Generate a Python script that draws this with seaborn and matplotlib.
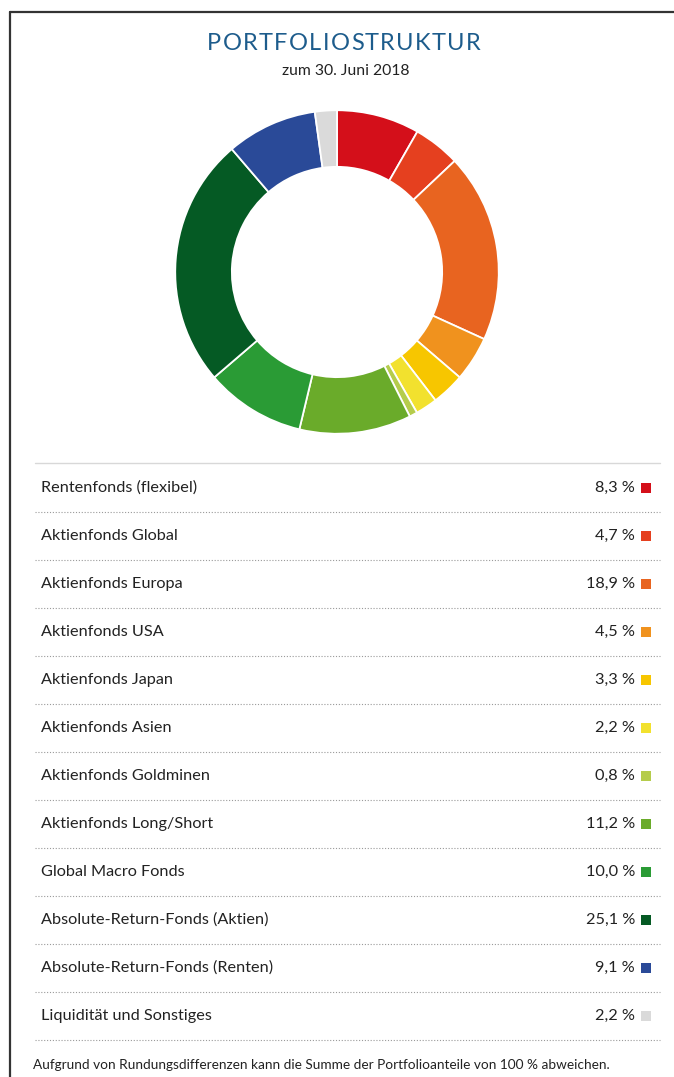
import matplotlib
matplotlib.use("Agg")
import matplotlib.pyplot as plt
import seaborn as sns

# data
labels = ["Rentenfonds (flexibel)", "Aktienfonds Global", "Aktienfonds Europa",
          "Aktienfonds USA", "Aktienfonds Japan", "Aktienfonds Asien",
          "Aktienfonds Goldminen", "Aktienfonds Long/Short", "Global Macro Fonds",
          "Absolute-Return-Fonds (Aktien)", "Absolute-Return-Fonds (Renten)",
          "Liquidität und Sonstiges"]
values = [8.3, 4.7, 18.9, 4.5, 3.3, 2.2, 0.8, 11.2, 10.0, 25.1, 9.1, 2.2]
colors = ["#D40F1A", "#E5401F", "#E86420", "#F0921E", "#F7C600", "#F2E12E",
          "#B5CC4C", "#6AAB2A", "#2A9B35", "#055A24", "#2A4A98", "#DADADA"]

title = "PORTFOLIOSTRUKTUR"
subtitle = "zum 30. Juni 2018"
footnote = "Aufgrund von Rundungsdifferenzen kann die Summe der Portfolioanteile von 100 % abweichen."

sns.set_theme(style="white")
plt.rcParams["font.family"] = ["Lato", "DejaVu Sans"]
palette = sns.color_palette(colors)

W, H = 674, 1077
fig = plt.figure(figsize=(W / 100, H / 100), dpi=100)
fig.patch.set_facecolor("white")

# full-page axes in pixel coordinates
page = fig.add_axes([0, 0, 1, 1])
page.set_xlim(0, W)
page.set_ylim(H, 0)
page.axis("off")

# frame
page.plot([10, W], [12, 12], color="#333333", lw=1.6)
page.plot([10, 10], [12, H], color="#333333", lw=1.6)

# title with letter spacing
renderer = fig.canvas.get_renderer()
tkw = dict(fontsize=17, color="#1D5C8C", va="center", ha="left")
widths = []
for ch in title:
    t = page.text(0, 0, ch, **tkw)
    widths.append(t.get_window_extent(renderer).width)
    t.remove()
spacing = 1.3
total = sum(widths) + spacing * (len(title) - 1)
x = 344 - total / 2
for ch, w in zip(title, widths):
    page.text(x, 44, ch, **tkw)
    x += w + spacing

page.text(346, 71, subtitle, fontsize=11.3, color="#222222", ha="center", va="center")

# donut
cx, cy, r = 337, 272, 165
pie_ax = fig.add_axes([(cx - r) / W, (H - cy - r) / H, 2 * r / W, 2 * r / H])
pie_ax.pie(values, colors=palette, startangle=90, counterclock=False,
           wedgeprops=dict(width=0.35, edgecolor="white", linewidth=1.3))
pie_ax.set_xlim(-1.02, 1.02)
pie_ax.set_ylim(-1.02, 1.02)
pie_ax.set_aspect("equal")
pie_ax.axis("off")

# table
page.plot([35, 660], [463, 463], color="#D8D8D8", lw=1.0)
y0, step = 488, 48
for i, (lab, val, col) in enumerate(zip(labels, values, palette)):
    y = y0 + i * step
    page.text(41, y, lab, fontsize=11.7, color="#222222", va="center", ha="left")
    pct = f"{val:.1f}".replace(".", ",") + " %"
    page.text(635, y, pct, fontsize=11.7, color="#222222", va="center", ha="right")
    page.add_patch(plt.Rectangle((641, y - 5), 10, 10, color=col, lw=0))
    page.plot([35, 660], [y + 24, y + 24], color="#9A9A9A", lw=0.8,
              linestyle=(0, (1, 1.6)))

page.text(33, 1065, footnote, fontsize=9.8, color="#222222", va="center", ha="left")

fig.savefig("out.png", dpi=100, facecolor="white")
